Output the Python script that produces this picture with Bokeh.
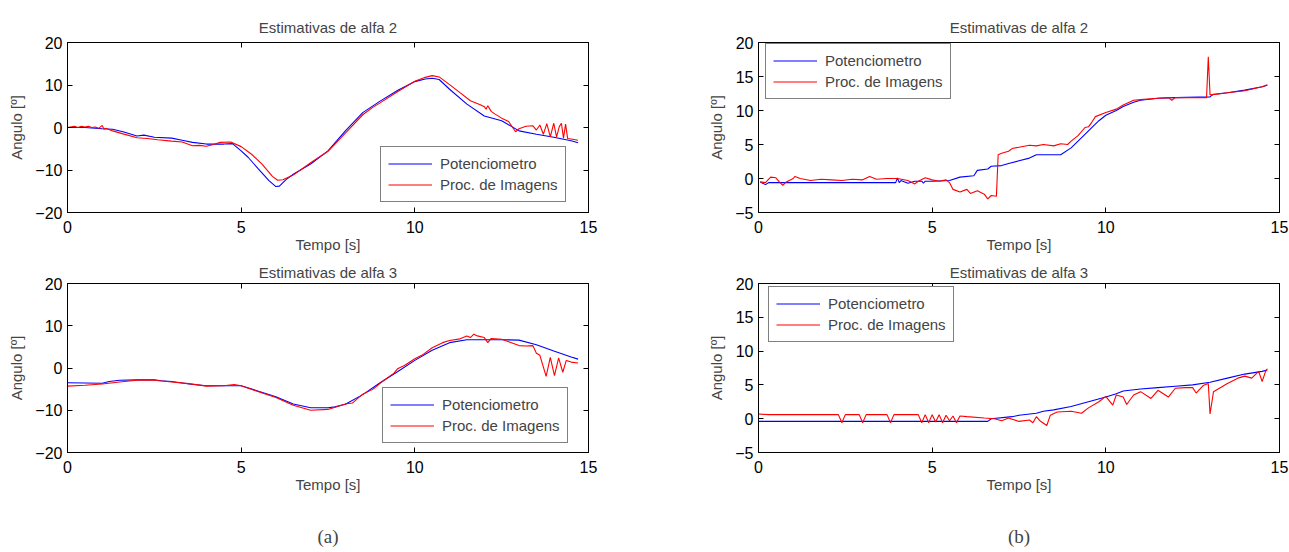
from bokeh.plotting import figure
from bokeh.models import LinearAxis, Legend, LegendItem, FixedTicker, Range1d
from bokeh.layouts import column, row
from bokeh.embed import file_html
from bokeh.resources import INLINE

# ---------------- data ----------------
x_ticks = [0, 5, 10, 15]
y_ticks_a = [-20, -10, 0, 10, 20]
y_ticks_b = [-5, 0, 5, 10, 15, 20]

titles = ["Estimativas de alfa 2", "Estimativas de alfa 3"]
series_names = ["Potenciometro", "Proc. de Imagens"]
subcaptions = ["(a)", "(b)"]

# (a) alfa 2
a2_t_pot = [0, 0.5, 1.0, 1.3, 1.6, 2.0, 2.2, 2.5, 3.0, 3.3, 3.6, 4.0, 4.5, 4.75, 5.0, 5.2, 5.5, 5.8, 6.0, 6.1,
            6.3, 6.5, 7.0, 7.5, 8.0, 8.5, 9.0, 9.5, 10.0, 10.3, 10.5, 10.7, 11.0, 11.5, 12.0, 12.5, 13.0, 13.5,
            14.0, 14.5, 14.7]
a2_pot = [0, 0, -0.3, -0.4, -1.0, -2.0, -1.8, -2.3, -2.5, -3.0, -3.5, -3.9, -3.9, -3.8, -5.5, -7.0, -9.8, -12.5,
          -13.9, -13.8, -12.2, -11.0, -8.6, -5.5, -0.8, 3.5, 6.2, 8.7, 10.8, 11.4, 11.6, 11.3, 9.0, 5.5, 2.7, 1.6,
          -0.8, -1.6, -2.3, -3.1, -3.6]
a2_t_img = [0, 0.2, 0.3, 0.4, 0.5, 0.6, 0.7, 0.8, 0.9, 1.0, 1.05, 1.1, 1.3, 1.6, 2.0, 2.3, 2.6, 3.0, 3.3, 3.6,
            3.8, 4.0, 4.2, 4.4, 4.7, 5.0, 5.3, 5.6, 5.9, 6.05, 6.2, 6.5, 7.0, 7.5, 8.0, 8.5, 8.8, 9.0, 9.5, 10.0,
            10.3, 10.5, 10.7, 11.0, 11.3, 11.6, 11.9, 12.0, 12.05, 12.1, 12.2, 12.3, 12.5, 12.7, 12.9, 13.0,
            13.2, 13.4, 13.5, 13.6, 13.7, 13.8, 13.9, 14.0, 14.08, 14.16, 14.22, 14.28, 14.34, 14.4, 14.5, 14.7]
a2_img = [0, 0.3, 0, 0.3, 0.1, 0.3, 0, 0.1, -0.2, 0.5, -0.4, -0.2, -0.8, -1.5, -2.4, -2.6, -2.9, -3.2, -3.4,
          -4.3, -4.2, -4.4, -4.0, -3.5, -3.4, -4.5, -6.3, -8.6, -11.5, -12.4, -12.3, -11.2, -8.3, -5.6, -1.3,
          3.0, 4.8, 5.8, 8.4, 10.9, 11.8, 12.2, 11.9, 10.1, 8.2, 6.3, 5.3, 4.9, 4.3, 5.1, 3.8, 3.2, 2.2, 1.4,
          -1.0, -0.3, 0.3, 0.4, -0.6, 0.6, -1.6, 0.9, -2.2, 1.0, -2.2, 0.2, 1.0, -2.5, 0.8, -2.6, -2.7, -3.0]

# (a) alfa 3
a3_t_pot = [0, 1.0, 1.2, 1.5, 2.0, 2.5, 2.7, 3.0, 3.5, 4.0, 4.5, 5.0, 5.5, 6.0, 6.5, 7.0, 7.5, 7.7, 8.0, 8.5,
            9.0, 9.5, 10.0, 10.5, 11.0, 11.5, 12.0, 12.5, 13.0, 13.5, 14.0, 14.5, 14.7]
a3_pot = [-3.5, -3.6, -3.2, -2.9, -2.8, -2.8, -3.0, -3.2, -3.8, -4.2, -4.2, -4.2, -5.5, -6.8, -8.5, -9.4, -9.4,
          -9.2, -8.6, -6.3, -3.5, -0.9, 1.8, 4.2, 6.0, 6.7, 6.7, 6.7, 6.6, 5.5, 4.0, 2.6, 2.1]
a3_t_img = [0, 0.5, 1.0, 1.5, 2.0, 2.5, 3.0, 3.5, 4.0, 4.5, 4.8, 5.0, 5.5, 6.0, 6.5, 7.0, 7.5, 8.0, 8.2, 8.5,
            8.8, 9.0, 9.2, 9.4, 9.5, 9.7, 10.0, 10.2, 10.5, 10.8, 11.0, 11.3, 11.5, 11.6, 11.7, 11.8, 12.0, 12.1,
            12.2, 12.5, 12.7, 12.9, 13.0, 13.2, 13.4, 13.5, 13.6, 13.78, 13.9, 14.02, 14.14, 14.26, 14.36, 14.5,
            14.7]
a3_img = [-4.3, -4.1, -3.8, -3.3, -2.9, -2.9, -3.3, -3.7, -4.3, -4.2, -3.9, -4.2, -5.6, -7.0, -8.8, -10.0, -9.8,
          -8.5, -8.3, -6.2, -5.0, -3.6, -2.4, -1.2, -0.2, 0.6, 2.2, 3.0, 4.8, 6.0, 6.5, 6.9, 7.6, 7.2, 8.0, 7.6,
          7.2, 6.0, 7.0, 6.8, 6.2, 5.6, 5.3, 5.2, 5.3, 3.5, 3.0, -2.0, 2.5, -1.8, 2.4, -1.0, 1.8, 1.4, 1.2]

# (b) alfa 2
b2_t_pot = [0.05, 0.2, 0.3, 0.5, 1.0, 2.0, 3.0, 3.95, 4.0, 4.05, 4.1, 4.3, 4.5, 4.7, 4.75, 4.8, 5.0, 5.5, 5.8,
            6.2, 6.3, 6.6, 6.7, 7.0, 7.2, 7.5, 7.8, 8.0, 8.7, 9.0, 9.2, 9.5, 9.8, 10.0, 10.3, 10.5, 10.8, 11.0,
            11.5, 12.0, 13.0, 13.1, 13.5, 14.0, 14.5, 14.65]
b2_pot = [-0.5, -0.9, -0.6, -0.6, -0.6, -0.6, -0.6, -0.6, 0.1, -0.6, -0.3, -0.7, -0.4, -0.4, -0.7, -0.4, -0.4,
          -0.3, 0.2, 0.4, 1.2, 1.4, 1.8, 1.9, 2.2, 2.6, 3.0, 3.5, 3.5, 4.5, 5.5, 7.0, 8.5, 9.3, 10.0, 10.6, 11.2,
          11.5, 11.8, 11.9, 12.0, 12.4, 12.6, 13.0, 13.5, 13.7]
b2_t_img = [0.05, 0.2, 0.35, 0.5, 0.6, 0.7, 0.8, 1.0, 1.05, 1.2, 1.5, 1.8, 2.1, 2.4, 2.7, 3.0, 3.2, 3.4, 3.7,
            4.0, 4.3, 4.5, 4.6, 4.8, 5.0, 5.2, 5.4, 5.5, 5.6, 5.8, 6.0, 6.1, 6.3, 6.5, 6.6, 6.7, 6.85, 6.9, 7.0,
            7.2, 7.3, 7.5, 7.8, 8.0, 8.2, 8.5, 8.7, 8.9, 9.0, 9.2, 9.4, 9.5, 9.6, 9.7, 10.0, 10.3, 10.5, 10.8,
            11.0, 11.5, 11.8, 11.9, 12.0, 12.4, 12.8, 12.9, 12.95, 13.0, 13.2, 13.5, 14.0, 14.5, 14.65]
b2_img = [-0.5, -0.6, 0.2, 0.1, -0.5, -1.0, -0.5, 0.0, 0.3, 0.0, -0.3, -0.1, -0.2, -0.3, -0.1, -0.2, 0.3, -0.1,
          0.0, 0.0, -0.3, -0.8, -0.4, 0.1, -0.2, -0.4, -0.2, -0.6, -1.6, -2.0, -1.6, -2.2, -1.8, -2.3, -3.0,
          -2.5, -2.6, 3.5, 3.7, 4.0, 4.4, 4.6, 4.9, 4.8, 5.0, 4.8, 5.1, 5.0, 5.5, 6.3, 7.5, 7.6, 8.3, 9.1, 9.7,
          10.2, 10.8, 11.5, 11.6, 11.8, 11.9, 11.5, 11.9, 11.9, 11.9, 11.9, 17.9, 12.3, 12.4, 12.6, 12.9, 13.5,
          13.8]

# (b) alfa 3
b3_t_pot = [0, 6.6, 6.7, 7.3, 7.5, 8.0, 8.2, 8.5, 9.0, 9.5, 10.0, 10.3, 10.5, 11.0, 11.5, 12.0, 12.5, 13.0,
            13.5, 14.0, 14.5, 14.65]
b3_pot = [-0.4, -0.4, 0.0, 0.3, 0.5, 0.8, 1.1, 1.3, 1.8, 2.5, 3.2, 3.7, 4.1, 4.4, 4.6, 4.8, 5.0, 5.4, 6.0, 6.6,
          7.0, 7.2]
b3_t_img = [0, 0.3, 1.0, 2.0, 2.3, 2.4, 2.5, 2.9, 3.0, 3.1, 3.7, 3.8, 3.9, 4.6, 4.7, 4.8, 4.9, 5.0, 5.1, 5.2,
            5.3, 5.4, 5.5, 5.6, 5.7, 5.8, 6.0, 6.5, 6.8, 7.0, 7.2, 7.5, 7.8, 7.9, 8.0, 8.1, 8.3, 8.4, 8.6, 9.0,
            9.3, 9.5, 9.8, 10.0, 10.2, 10.3, 10.5, 10.6, 10.8, 11.0, 11.3, 11.5, 11.8, 12.0, 12.3, 12.5, 12.6,
            12.8, 12.95, 13.0, 13.1, 13.5, 13.8, 14.0, 14.2, 14.4, 14.5, 14.6, 14.65]
b3_img = [0.7, 0.6, 0.6, 0.6, 0.6, -0.6, 0.6, 0.6, -0.6, 0.6, 0.6, -0.6, 0.6, 0.6, -0.6, 0.6, -0.6, 0.6, -0.5,
          0.6, -0.6, 0.5, -0.3, 0.4, -0.6, 0.4, 0.3, 0.1, 0.0, -0.3, 0.1, -0.4, -0.2, -0.6, 0.3, -0.3, -1.0,
          0.5, 1.0, 1.1, 0.8, 1.6, 2.5, 3.3, 2.0, 3.5, 3.2, 2.1, 3.5, 4.0, 3.0, 4.2, 3.2, 4.5, 4.6, 4.6, 3.8,
          4.9, 5.2, 0.7, 4.0, 5.2, 6.0, 6.3, 6.0, 7.0, 5.5, 7.0, 7.4]

BLUE = "#0000ff"
RED = "#ff0000"
FONT = "Liberation Sans"


def style_axis(ax, ticks, show_labels=True):
    ax.ticker = FixedTicker(ticks=ticks)
    ax.major_tick_in = 5
    ax.major_tick_out = 0
    ax.minor_tick_line_color = None
    ax.axis_line_color = "black"
    ax.major_tick_line_color = "black"
    if show_labels:
        ax.major_label_text_font = FONT
        ax.major_label_text_font_size = "16px"
        ax.major_label_text_color = "black"
    else:
        ax.major_label_text_font_size = "1px"
        ax.major_label_text_color = None
        ax.major_label_standoff = 0


def panel(title, ylo, yhi, yticks, t_pot, v_pot, t_img, v_img, width, height, borders, legend_loc,
          title_standoff):
    bl, br, bt, bb = borders
    p = figure(width=width, height=height, x_range=Range1d(0, 15), y_range=Range1d(ylo, yhi),
               output_backend="svg", toolbar_location=None,
               min_border_left=bl, min_border_right=br, min_border_top=bt, min_border_bottom=bb,
               title=title)
    p.title.align = "center"
    p.title.text_font = FONT
    p.title.text_font_size = "15px"
    p.title.text_font_style = "normal"
    p.title.standoff = title_standoff
    p.xgrid.visible = False
    p.ygrid.visible = False
    p.outline_line_color = "black"
    p.background_fill_color = "white"
    p.border_fill_color = "white"

    style_axis(p.xaxis[0], x_ticks)
    style_axis(p.yaxis[0], yticks)
    p.xaxis.axis_label = "Tempo [s]"
    p.yaxis.axis_label = "Angulo [º]"
    for ax in (p.xaxis[0], p.yaxis[0]):
        ax.axis_label_text_font = FONT
        ax.axis_label_text_font_size = "15px"
        ax.axis_label_text_font_style = "normal"
    p.xaxis.major_label_standoff = 8
    p.xaxis.axis_label_standoff = 0
    p.yaxis.major_label_standoff = 5
    p.yaxis.axis_label_standoff = 7

    top = LinearAxis()
    style_axis(top, x_ticks, show_labels=False)
    p.add_layout(top, "above")
    right = LinearAxis()
    style_axis(right, yticks, show_labels=False)
    p.add_layout(right, "right")

    r1 = p.line(t_pot, v_pot, line_color=BLUE, line_width=1.1)
    r2 = p.line(t_img, v_img, line_color=RED, line_width=1.1)
    leg = Legend(items=[LegendItem(label=series_names[0], renderers=[r1]),
                        LegendItem(label=series_names[1], renderers=[r2])],
                 location=legend_loc, margin=0, padding=7, spacing=2,
                 glyph_width=44, glyph_height=19, label_height=19, label_standoff=8,
                 label_text_font=FONT, label_text_font_size="15px",
                 border_line_color="black", border_line_width=1.2,
                 background_fill_color="white", background_fill_alpha=1.0)
    p.add_layout(leg)
    return p


p1 = panel(titles[0], -20, 20, y_ticks_a, a2_t_pot, a2_pot, a2_t_img, a2_img,
           645, 256, (67, 57, 42, 44), (313, 10), 13)
p2 = panel(titles[1], -20, 20, y_ticks_a, a3_t_pot, a3_pot, a3_t_img, a3_img,
           645, 296, (67, 57, 27, 100), (315, 9), 6)
p3 = panel(titles[0], -5, 20, y_ticks_b, b2_t_pot, b2_pot, b2_t_img, b2_img,
           644, 256, (113, 10, 42, 44), (7, 113), 13)
p4 = panel(titles[1], -5, 20, y_ticks_b, b3_t_pot, b3_pot, b3_t_img, b3_img,
           644, 296, (113, 10, 27, 100), (10, 110), 6)

# sub-figure captions, drawn as the label of an otherwise invisible second bottom axis
for p, lab in ((p2, subcaptions[0]), (p4, subcaptions[1])):
    cap = LinearAxis(axis_label=lab)
    cap.ticker = FixedTicker(ticks=[])
    cap.axis_line_color = None
    cap.major_tick_line_color = None
    cap.minor_tick_line_color = None
    cap.major_tick_in = 0
    cap.major_tick_out = 0
    cap.major_label_text_font_size = "1px"
    cap.major_label_text_color = None
    cap.major_label_standoff = 0
    cap.axis_label_text_font = "Liberation Serif"
    cap.axis_label_text_font_size = "19px"
    cap.axis_label_text_font_style = "normal"
    cap.axis_label_standoff = 30
    p.add_layout(cap, "below")

layout = column(row(p1, p3), row(p2, p4))

with open("out.html", "w") as f:
    f.write(file_html(layout, INLINE))
